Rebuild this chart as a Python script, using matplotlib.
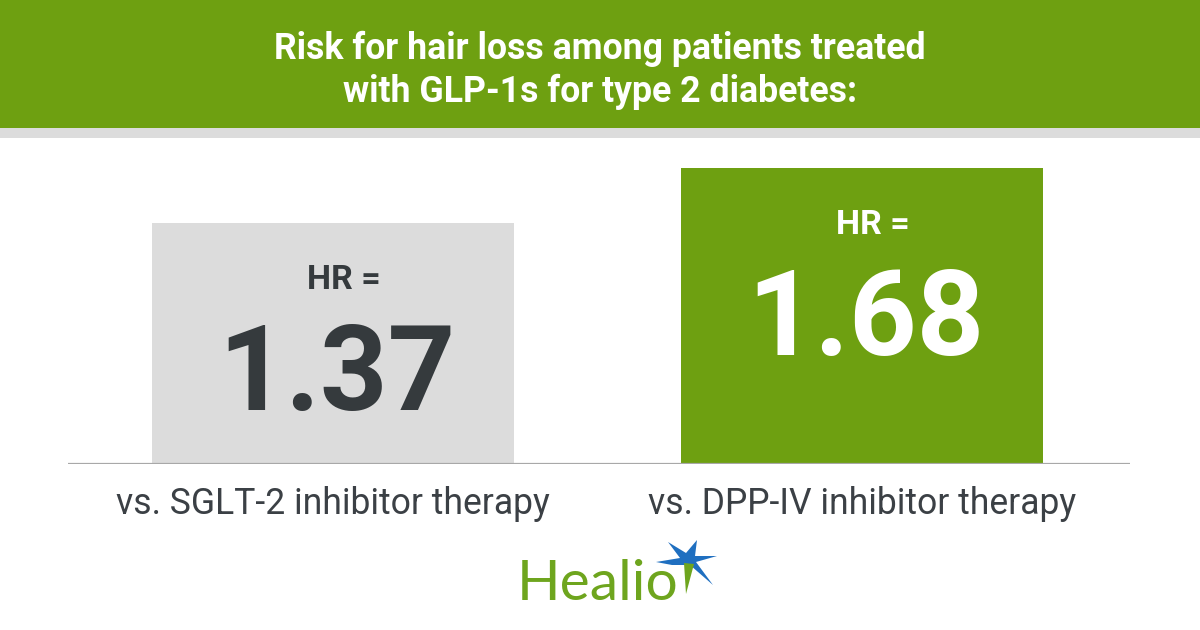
import matplotlib.pyplot as plt
from matplotlib.patches import Rectangle, Polygon

# data
comparisons = ["vs. SGLT-2 inhibitor therapy", "vs. DPP-IV inhibitor therapy"]
hazard_ratios = [1.37, 1.68]
title_lines = ["Risk for hair loss among patients treated",
               "with GLP-1s for type 2 diabetes:"]

GREEN = "#6ea011"
LIGHT_GRAY = "#dcdcdc"
DARK = "#353a3d"
LABEL = "#3b4045"

plt.rcParams['font.family'] = ['Roboto', 'DejaVu Sans']

fig = plt.figure(figsize=(12, 6.3), dpi=100)

# background layer in pixel coordinates (decorations only)
bg = fig.add_axes([0, 0, 1, 1])
bg.set_xlim(0, 1200)
bg.set_ylim(630, 0)
bg.axis('off')
bg.add_patch(Rectangle((0, 0), 1200, 128, color=GREEN, lw=0))
bg.add_patch(Rectangle((0, 128), 1200, 10, color=LIGHT_GRAY, lw=0))

fig.text(0.5, 1 - 59 / 630, title_lines[0], ha='center', va='baseline',
         color='white', fontsize=25.7, fontweight='bold')
fig.text(0.5, 1 - 102 / 630, title_lines[1], ha='center', va='baseline',
         color='white', fontsize=25.7, fontweight='bold')

# bars
ax = fig.add_axes([68 / 1200, (630 - 464) / 630, 1062 / 1200, 324 / 630])
ax.set_xlim(-0.501, 1.507)
ax.set_ylim(0, 324 / 175.9)
ax.axis('off')

x = [0, 1]
bar_colors = [LIGHT_GRAY, GREEN]
text_colors = [DARK, 'white']
ax.bar(x, hazard_ratios, width=0.684, color=bar_colors, zorder=1)
ax.axhline(0, color="#a8a8a8", lw=1.6, zorder=2)

for xi, hr, tc, lab in zip(x, hazard_ratios, text_colors, comparisons):
    ax.annotate("HR =", (xi, hr), xytext=(8, -47.5), textcoords='offset points',
                ha='center', va='baseline', color=tc, fontsize=24.5, fontweight='bold')
    ax.annotate(f"{hr:.2f}", (xi, hr), xytext=(3, -134.5), textcoords='offset points',
                ha='center', va='baseline', color=tc, fontsize=85, fontweight='bold')
    ax.annotate(lab, (xi, 0), xytext=(0, -36), textcoords='offset points',
                ha='center', va='baseline', color=LABEL, fontsize=25.6)

# Healio logo
bg.text(517, 600, "Healio", ha='left', va='baseline', color="#6ea51e",
        fontsize=41, family=['Lato', 'DejaVu Sans'])
blue_star = [(668, 542), (686, 553), (697, 540), (695, 556), (717, 556),
             (696, 562), (713, 585), (690, 565), (672, 565), (656, 562), (680, 558)]
bg.add_patch(Polygon(blue_star, closed=True, color="#1f6fc0", lw=0))
bg.add_patch(Polygon([(684, 563), (694, 564), (686, 594)], closed=True,
                     color="#6ea51e", lw=0))

fig.savefig("out.png", dpi=100)
